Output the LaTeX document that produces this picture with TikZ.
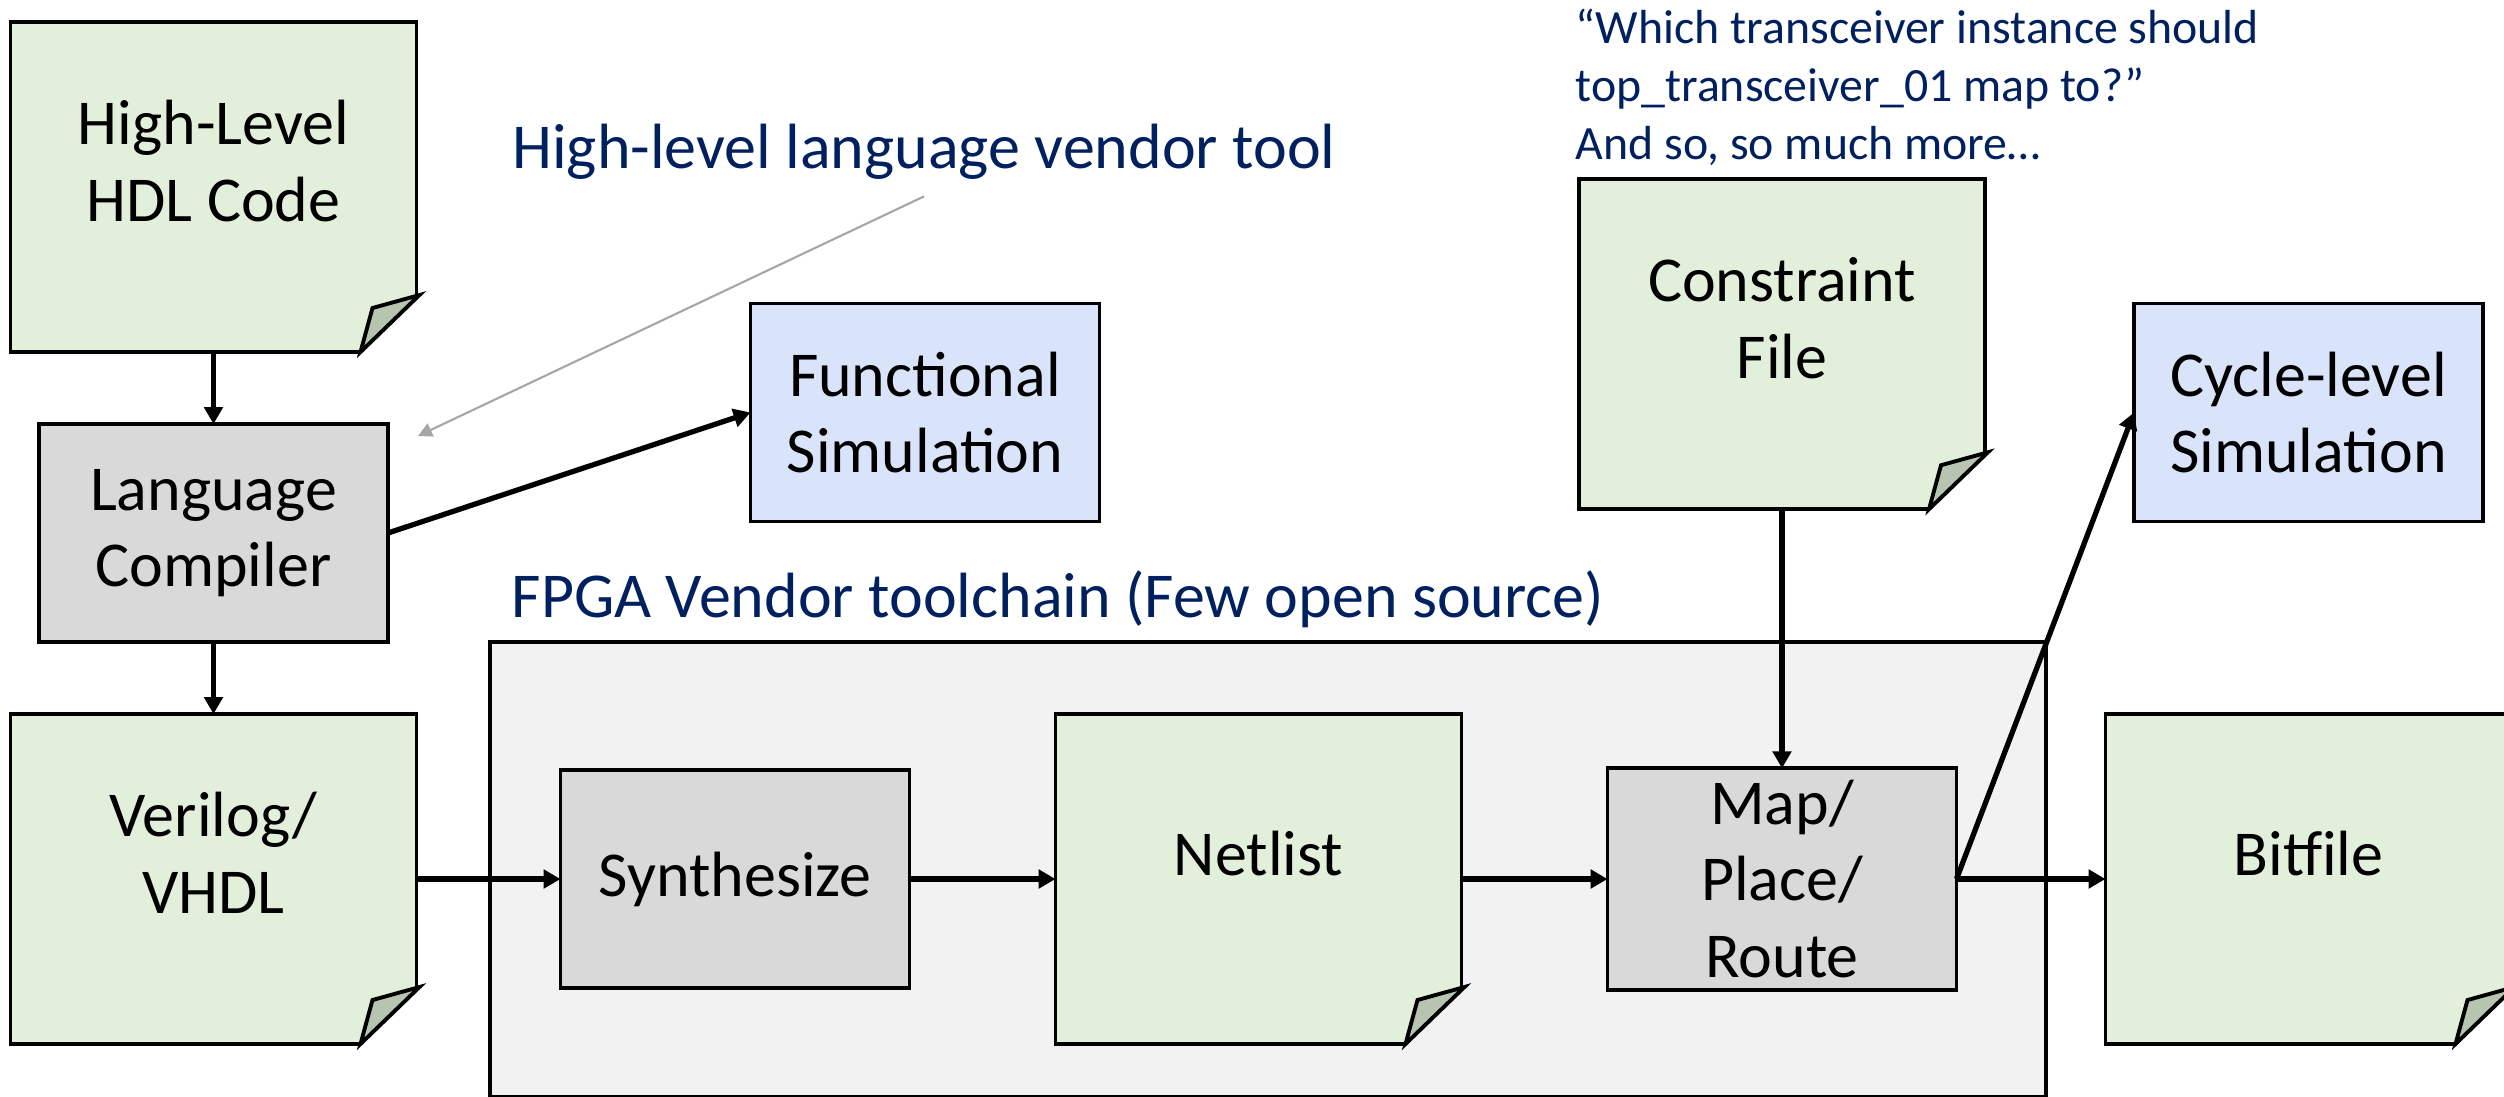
\documentclass[tikz,border=0pt]{standalone}
\usepackage{fontspec}
\setmainfont{Carlito}
\usetikzlibrary{arrows.meta,positioning}
\definecolor{filgroen}{HTML}{E2EFDA}
\definecolor{foldgroen}{HTML}{B7C4B0}
\definecolor{procesgraa}{HTML}{D9D9D9}
\definecolor{simblaa}{HTML}{D9E4FB}
\definecolor{kaedegraa}{HTML}{F2F2F2}
\definecolor{noteblaa}{HTML}{002060}
\tikzset{
    %Define standard arrow tip
    >={Triangle[length=4.8pt,width=5.2pt]},
    %Define style for tool boxes
    proces/.style={
           rectangle,
           draw=black,
           line width=1.1pt,
           outer sep=0pt,
           fill=procesgraa,
           minimum width=34.9mm,
           minimum height=21.8mm,
           align=center,
           font=\fontsize{18.2}{21.8}\selectfont},
    %Define style for files (corner is folded afterwards)
    fil/.style={
           proces,
           fill=filgroen,
           minimum width=40.6mm,
           minimum height=33mm,
           execute at end node={\rule[-5.2mm]{0pt}{0pt}}},
    %Define style for simulation boxes
    sim/.style={proces, fill=simblaa},
    %Define style for the folded flap
    flap/.style={draw=black, line width=1.1pt, fill=foldgroen},
    %Define style for blue remarks
    notat/.style={text=noteblaa, align=left, inner sep=0pt},
    % Define arrow style
    pil/.style={
           ->,
           line width=1.5pt},
    hint/.style={
           -{Triangle[length=4pt,width=4pt]},
           draw=black!35,
           line width=0.6pt}
}
\begin{document}
\begin{tikzpicture}[x=0.1mm, y=-0.1mm]
  \useasboundingbox (0,0) rectangle (2504,1096);
  % vendor toolchain frame
  \node[draw=black, line width=1pt, fill=kaedegraa, minimum width=155.6mm, minimum height=45.5mm] (fpga) at (1268,869.5) {};
  \node[notat, anchor=west, font=\fontsize{18.2}{21.8}\selectfont] (fpgalbl) at (511,599) {FPGA Vendor toolchain (Few open source)};
  % main flow
  \node[fil] (verilog) at (213.5,879) {Verilog/\\VHDL};
  \node[proces, above=7.2mm of verilog] (lc) {Language\\Compiler};
  \node[fil, above=7.2mm of lc] (hdl) {High-Level\\HDL Code};
  \node[proces, right=14.4mm of verilog] (synth) {Synthesize};
  \node[fil, right=14.6mm of synth] (netlist) {Netlist};
  \node[proces, right=14.6mm of netlist] (map) {Map/\\Place/\\Route};
  \node[fil, right=14.9mm of map] (bitfile) {Bitfile};
  \node[fil, above=25.9mm of map] (constraint) {Constraint\\File};
  \node[sim] (func) at (925,412.5) {Functional\\Simulation};
  \node[sim] (cycle) at (2308.5,412.5) {Cycle-level\\Simulation};
  % folded corners: cut the corner away, then draw the flap
  \foreach \f/\c in {hdl/white,verilog/white,netlist/kaedegraa,constraint/white,bitfile/white} {
    \fill[\c] ([xshift=-6.1mm,yshift=-0.5mm]\f.south east) -- ([xshift=0.5mm,yshift=-0.5mm]\f.south east)
      -- ([xshift=0.5mm,yshift=6.1mm]\f.south east) -- cycle;
    \draw[flap] ([xshift=-5.6mm]\f.south east) -- ++(1.2mm,4.4mm)
      -- ([xshift=0.3mm,yshift=5.7mm]\f.south east) -- cycle;
  }
  % remarks
  \node[notat, font=\fontsize{18.2}{21.8}\selectfont] (vendor) at (924,152) {High-level language vendor tool};
  \node[notat, anchor=north west, font=\fontsize{13.6}{16.5}\selectfont] (question) at (1575,8)
    {“Which transceiver instance should\\top\_transceiver\_01 map to?”\\And so, so much more…};
  \coordinate (vendortip) at (418,436);
  % connections
  \draw[pil] (hdl.south) -- (lc.north);
  \draw[pil] (lc.south) -- (verilog.north);
  \draw[pil] (lc.east) -- (func.west);
  \draw[pil] (verilog.east) -- (synth.west);
  \draw[pil] (synth.east) -- (netlist.west);
  \draw[pil] (netlist.east) -- (map.west);
  \draw[pil] (constraint.south) -- (map.north);
  \draw[pil] (map.east) -- (cycle.west);
  \draw[pil] (map.east) -- (bitfile.west);
  \draw[hint] ([yshift=-1.6mm]vendor.south) -- (vendortip);
\end{tikzpicture}
\end{document}
